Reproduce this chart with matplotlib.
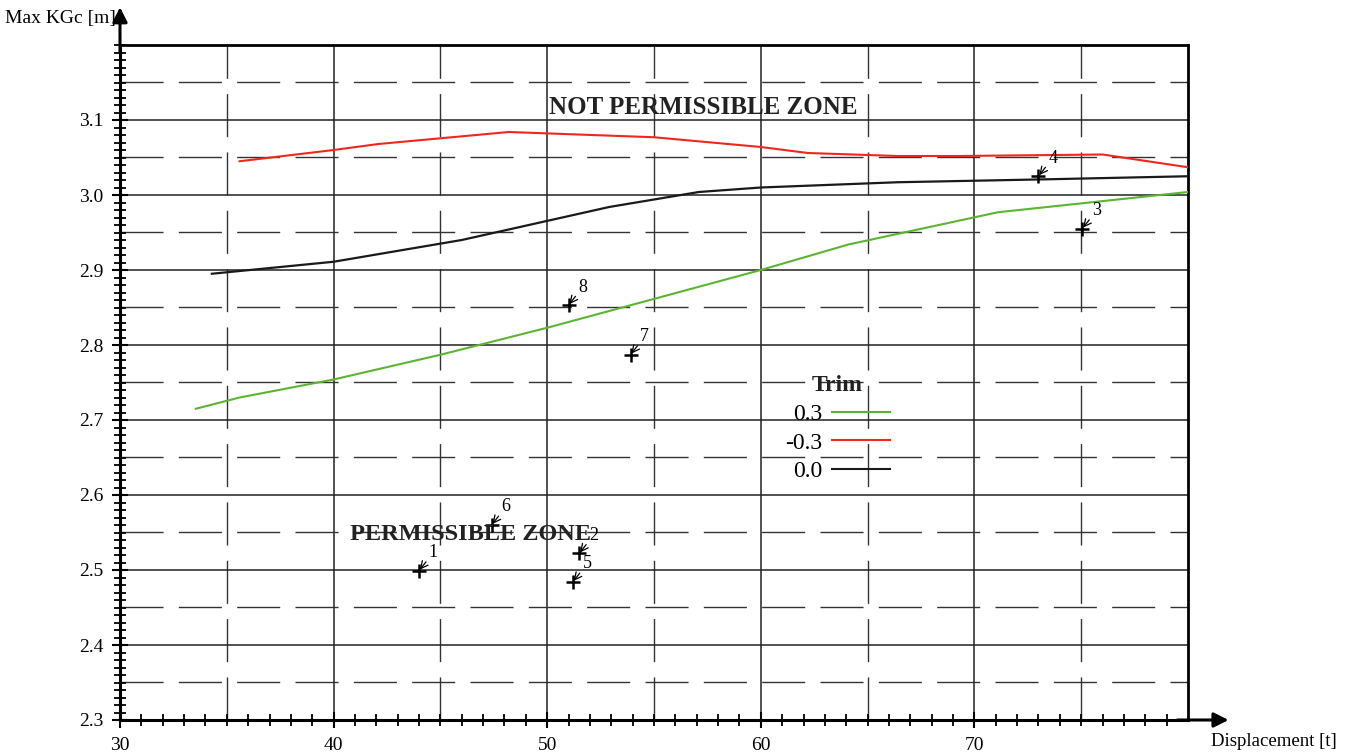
import numpy as np
import matplotlib.pyplot as plt
from matplotlib.lines import Line2D


# ---------------------------------------------------------------
# Data
# ---------------------------------------------------------------
disp_red = [35.6, 40.0, 42.1, 48.2, 55.0, 60.0, 62.2, 66.4, 69.3, 76.0, 80.0]
kgc_red = [3.045, 3.060, 3.068, 3.084, 3.077, 3.064, 3.056, 3.052, 3.052, 3.054, 3.037]

disp_black = [34.3, 40.0, 46.0, 48.2, 52.9, 57.1, 60.0, 66.4, 73.5, 80.0]
kgc_black = [2.895, 2.911, 2.940, 2.954, 2.984, 3.004, 3.010, 3.017, 3.021, 3.025]

disp_green = [33.55, 35.6, 40.0, 45.0, 50.0, 55.2, 60.0, 64.1, 71.1, 80.0]
kgc_green = [2.715, 2.730, 2.754, 2.787, 2.823, 2.863, 2.900, 2.934, 2.977, 3.004]

pt_labels = ["1", "2", "3", "4", "5", "6", "7", "8"]
pt_disp = [44.0, 51.5, 75.05, 73.0, 51.2, 47.4, 53.9, 51.0]
pt_kgc = [2.499, 2.522, 2.955, 3.025, 2.484, 2.560, 2.787, 2.853]

trim_labels = ["0.3", "-0.3", "0.0"]
trim_colors = ["#5cb531", "#f2261c", "#1a1a1a"]

x_ticks = [30, 40, 50, 60, 70]
y_ticks = [2.3, 2.4, 2.5, 2.6, 2.7, 2.8, 2.9, 3.0, 3.1]

# ---------------------------------------------------------------
# Plot
# ---------------------------------------------------------------
plt.rcParams['font.family'] = ['Liberation Serif', 'DejaVu Serif']

fig = plt.figure(figsize=(13.57, 7.56), dpi=100)
ax = fig.add_axes([120 / 1357, 36 / 756, 1068 / 1357, 675 / 756])
ax.set_xlim(30, 80)
ax.set_ylim(2.3, 3.2)

# grid: solid on the majors, dashed half way
for gx in range(40, 80, 10):
    ax.axvline(gx, color="#222222", lw=1.1, zorder=1)
for gx in range(35, 80, 10):
    ax.axvline(gx, color="#333333", lw=1.0, dashes=(31, 11), zorder=1)
for gy in np.arange(2.4, 3.15, 0.1):
    ax.axhline(gy, color="#222222", lw=1.1, zorder=1)
for gy in np.arange(2.35, 3.2, 0.1):
    ax.axhline(gy, color="#333333", lw=1.0, dashes=(31, 11), zorder=1)

# curves
ax.plot(disp_green, kgc_green, color=trim_colors[0], lw=1.5, zorder=3)
ax.plot(disp_red, kgc_red, color=trim_colors[1], lw=1.5, zorder=3)
ax.plot(disp_black, kgc_black, color=trim_colors[2], lw=1.6, zorder=3)

# numbered points
ax.plot(pt_disp, pt_kgc, "+", color="black", ms=10, mew=1.8, zorder=4)
for lab, px, py in zip(pt_labels, pt_disp, pt_kgc):
    ax.annotate(lab, xy=(px, py), xytext=(7, 7), textcoords="offset points",
                fontsize=13, ha="left", va="bottom",
                arrowprops=dict(arrowstyle="->", lw=0.9, color="black",
                                shrinkA=0, shrinkB=1), zorder=5)

ax.text(57.3, 3.117, "NOT PERMISSIBLE ZONE", fontsize=18, fontweight="bold",
        ha="center", va="center", color="#222222", zorder=4)
ax.text(46.4, 2.547, "PERMISSIBLE ZONE", fontsize=17.5, fontweight="bold",
        ha="center", va="center", color="#222222", zorder=4)

# legend
handles = [Line2D([], [], color=c, lw=1.5) for c in trim_colors]
leg = ax.legend(handles, trim_labels, title="Trim", markerfirst=False,
                frameon=False, fontsize=17, handlelength=2.45, handletextpad=0.4,
                labelspacing=0.3, loc="upper left", bbox_to_anchor=(0.603, 0.542),
                title_fontproperties={"weight": "bold", "size": 17})
leg.get_title().set_color("#222222")

# axes frame & ticks
for s in ["top", "right"]:
    ax.spines[s].set_linewidth(2.0)
for s in ["left", "bottom"]:
    ax.spines[s].set_linewidth(2.2)

ax.set_xticks(x_ticks)
ax.set_yticks(y_ticks)
ax.set_yticklabels([f"{v:.1f}" for v in y_ticks])
ax.set_xticks(np.arange(30, 80, 1), minor=True)
ax.set_yticks(np.arange(2.3, 3.2, 0.01), minor=True)
ax.tick_params(which="major", direction="inout", length=12, width=1.5,
               labelsize=14, pad=6)
ax.tick_params(which="minor", direction="inout", length=9, width=1.3)

# arrow ends of the axes
ax.annotate("", xy=(0, 1.056), xytext=(0, 0.99), xycoords="axes fraction",
            arrowprops=dict(arrowstyle="-|>", lw=2.2, color="black",
                            mutation_scale=22, shrinkA=0, shrinkB=0))
ax.annotate("", xy=(1.038, 0), xytext=(0.99, 0), xycoords="axes fraction",
            arrowprops=dict(arrowstyle="-|>", lw=2.2, color="black",
                            mutation_scale=22, shrinkA=0, shrinkB=0))

fig.text(5 / 1357, 1 - 18 / 756, "Max KGc [m]", fontsize=14, ha="left", va="center")
fig.text(1337 / 1357, 1 - 742 / 756, "Displacement [t]", fontsize=13.5, ha="right", va="center")

fig.savefig("out.png", dpi=100)
